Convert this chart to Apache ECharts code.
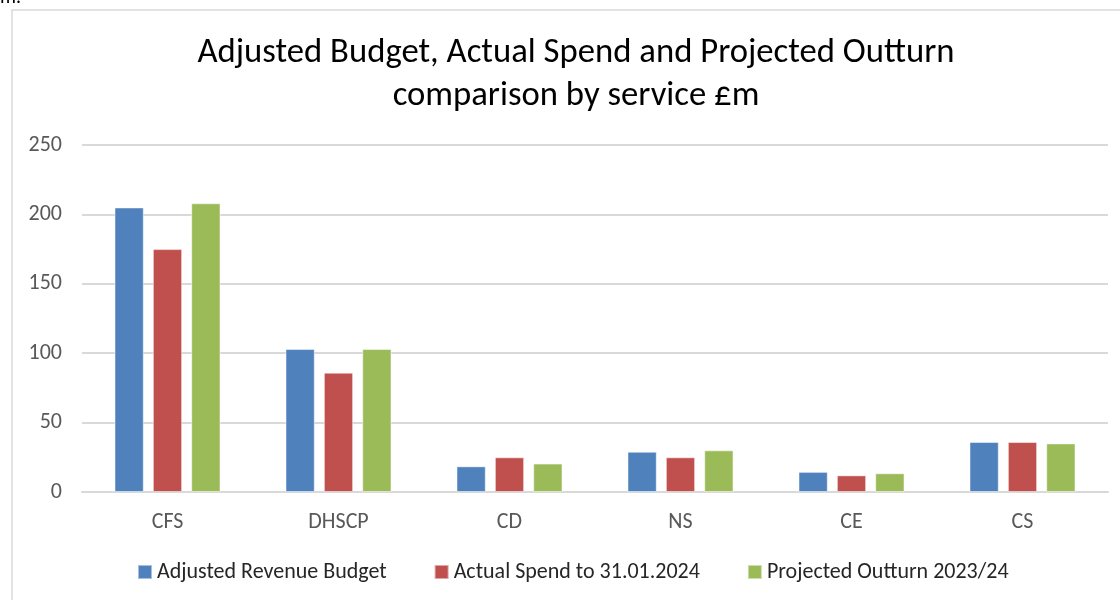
<!DOCTYPE html>
<html>
<head>
<meta charset="utf-8">
<script src="https://cdn.jsdelivr.net/npm/echarts@6/dist/echarts.min.js"></script>
<style>
html,body{margin:0;padding:0;background:#fff;}
#c{width:1120px;height:600px;}
</style>
</head>
<body>
<div id="c"></div>
<script>
const categories = ['CFS', 'DHSCP', 'CD', 'NS', 'CE', 'CS'];
const seriesNames = ['Adjusted Revenue Budget', 'Actual Spend to 31.01.2024', 'Projected Outturn 2023/24'];
const adjustedBudget = [205, 103, 18.5, 29, 14.5, 36];
const actualSpend = [175, 86, 25, 25, 12, 36];
const projectedOutturn = [208, 103, 20.5, 30, 13.5, 35];
const yTicks = [0, 50, 100, 150, 200, 250];

const FONT = 'Carlito, Lato, "Liberation Sans", sans-serif';
const colors = ['#4f81bd', '#c0504d', '#9bbb59'];
const chart = echarts.init(document.getElementById('c'));
const values = [adjustedBudget, actualSpend, projectedOutturn];

chart.setOption({
  animation: false,
  color: colors,
  title: {
    text: 'Adjusted Budget, Actual Spend and Projected Outturn\ncomparison by service £m',
    left: 571, top: 27, textAlign: 'center',
    textStyle: { fontFamily: FONT, fontSize: 34.7, fontWeight: 'normal', color: '#000', lineHeight: 43 }
  },
  graphic: [
    { type: 'rect', shape: { x: 12, y: 10, width: 1200, height: 700 }, style: { fill: 'none', stroke: '#d9d9d9', lineWidth: 1.5 }, silent: true },
    { type: 'text', left: 0, top: -12, style: { text: 'm.', fontFamily: FONT, fontSize: 20, fill: '#000' } }
  ],
  legend: {
    top: 556, left: 132, itemWidth: 14, itemHeight: 14, itemGap: 47,
    icon: 'rect',
    textStyle: { fontFamily: FONT, fontSize: 22, color: '#262626' },
    data: seriesNames
  },
  grid: { left: 82, right: 12, top: 145, bottom: 108, containLabel: false },
  xAxis: {
    type: 'category', data: categories,
    axisLine: { show: true, lineStyle: { color: '#d9d9d9', width: 2 } },
    axisTick: { show: false },
    axisLabel: { fontFamily: FONT, fontSize: 22, color: '#595959', margin: 19 }
  },
  yAxis: {
    type: 'value', min: yTicks[0], max: yTicks[yTicks.length - 1], interval: 50,
    axisLine: { show: false }, axisTick: { show: false },
    splitLine: { lineStyle: { color: '#d9d9d9', width: 2 } },
    axisLabel: { fontFamily: FONT, fontSize: 22, color: '#595959', margin: 20 }
  },
  series: seriesNames.map((n, i) => ({
    name: n, type: 'bar', data: values[i],
    barGap: '31%', barCategoryGap: '38%',
    itemStyle: { color: colors[i], borderColor: 'rgba(255,255,255,0.5)', borderWidth: 1 }
  }))
});
</script>
</body>
</html>
